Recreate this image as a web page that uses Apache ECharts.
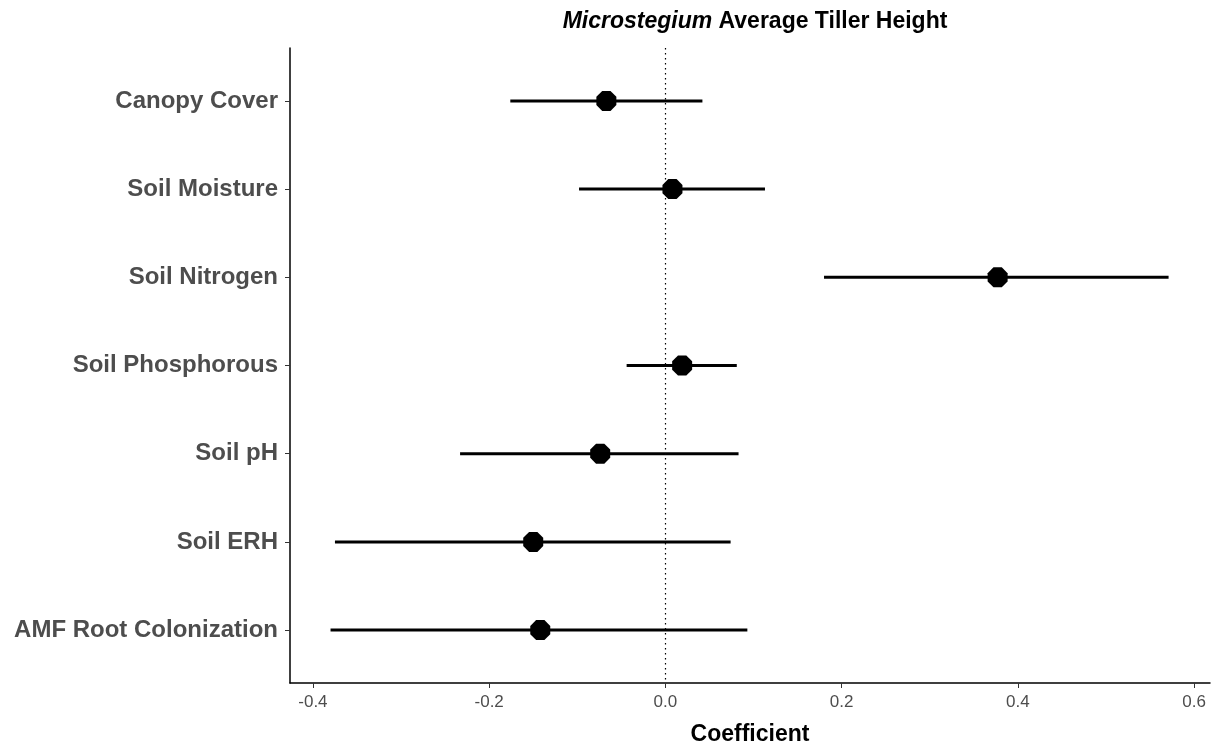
<!DOCTYPE html>
<html>
<head>
<meta charset="utf-8">
<script src="https://cdn.jsdelivr.net/npm/echarts@6/dist/echarts.min.js"></script>
<style>
  html, body { margin: 0; padding: 0; background: #fff; }
  #main { width: 1229px; height: 747px; }
</style>
</head>
<body>
<div id="main"></div>
<script>
// 預測變數與係數估計值
var categories = ['Canopy Cover', 'Soil Moisture', 'Soil Nitrogen', 'Soil Phosphorous', 'Soil pH', 'Soil ERH', 'AMF Root Colonization'];
var estimates = [-0.067, 0.008, 0.377, 0.019, -0.074, -0.150, -0.142];
var lower = [-0.176, -0.098, 0.180, -0.044, -0.233, -0.375, -0.380];
var upper = [0.042, 0.113, 0.571, 0.081, 0.083, 0.074, 0.093];
var xTicks = [-0.4, -0.2, 0.0, 0.2, 0.4, 0.6];

coefChart();

function coefChart() {
    var chartDom = document.getElementById('main');
    var myChart = echarts.init(chartDom);
    var option;

    var yPos = categories.map(function (c, i) { return i + 1; });
    var barData = categories.map(function (c, i) { return [lower[i], upper[i], i + 1]; });
    var pointData = categories.map(function (c, i) { return [estimates[i], i + 1]; });
    var greyText = '#4d4d4d';

    option = {
        animation: false,
        textStyle: { fontFamily: 'Liberation Sans, Arial, sans-serif' },
        title: {
            text: '{it|Microstegium}{b| Average Tiller Height}',
            left: 750,
            textAlign: 'center',
            top: 5,
            textStyle: {
                rich: {
                    it: { fontStyle: 'italic', fontWeight: 'bold', fontSize: 23, color: '#000' },
                    b: { fontWeight: 'bold', fontSize: 23, color: '#000' }
                }
            }
        },
        grid: { left: 290, right: 19, top: 48, bottom: 64, outerBoundsMode: 'none' },
        xAxis: {
            type: 'value',
            min: -0.426,
            max: 0.618,
            name: 'Coefficient',
            nameLocation: 'middle',
            nameGap: 40,
            nameTextStyle: { fontSize: 23, fontWeight: 'bold', color: '#000' },
            axisLine: { show: true, onZero: false, lineStyle: { color: '#000', width: 1.5 } },
            axisTick: { show: true, length: 5, customValues: xTicks, lineStyle: { color: '#333' } },
            axisLabel: {
                customValues: xTicks,
                color: greyText,
                fontSize: 17,
                margin: 11,
                formatter: function (v) { return v.toFixed(1); }
            },
            splitLine: { show: false }
        },
        yAxis: {
            type: 'value',
            inverse: true,
            min: 0.4,
            max: 7.6,
            axisLine: { show: true, onZero: false, lineStyle: { color: '#000', width: 1.5 } },
            axisTick: { show: true, length: 5, customValues: yPos, lineStyle: { color: '#333' } },
            axisLabel: {
                customValues: yPos,
                color: greyText,
                fontSize: 24,
                fontWeight: 'bold',
                margin: 12,
                formatter: function (v) { return categories[Math.round(v) - 1]; }
            },
            splitLine: { show: false }
        },
        series: [
            {
                // 信賴區間線段
                type: 'custom',
                data: barData,
                encode: { x: [0, 1], y: 2 },
                renderItem: function (params, api) {
                    var p1 = api.coord([api.value(0), api.value(2)]);
                    var p2 = api.coord([api.value(1), api.value(2)]);
                    return {
                        type: 'line',
                        shape: { x1: p1[0], y1: p1[1], x2: p2[0], y2: p2[1] },
                        style: { stroke: '#000', lineWidth: 3 }
                    };
                },
                markLine: {
                    silent: true,
                    symbol: 'none',
                    label: { show: false },
                    lineStyle: { color: '#000', type: [1.5, 3.5], width: 1.2 },
                    data: [{ xAxis: 0 }]
                },
                z: 2
            },
            {
                type: 'scatter',
                data: pointData,
                symbol: 'path://M-0.414,-1 L0.414,-1 L1,-0.414 L1,0.414 L0.414,1 L-0.414,1 L-1,0.414 L-1,-0.414 Z',
                symbolSize: 20,
                itemStyle: { color: '#000', opacity: 1 },
                z: 3
            }
        ]
    };

    option && myChart.setOption(option);
}
</script>
</body>
</html>
